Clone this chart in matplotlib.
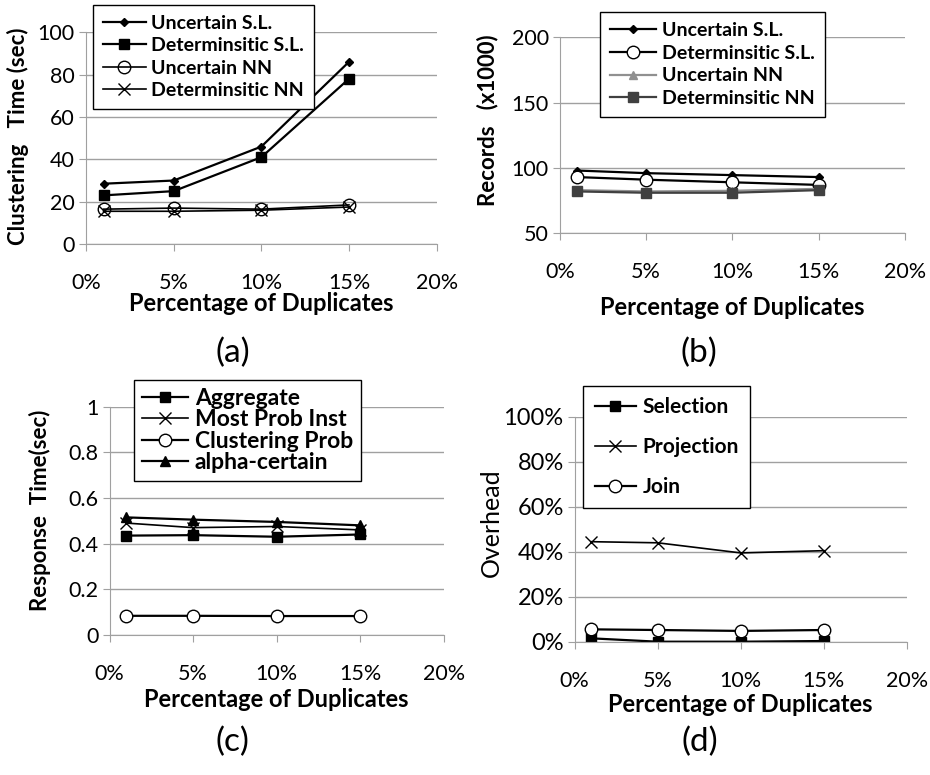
import matplotlib
matplotlib.use('Agg')
import matplotlib.pyplot as plt
import matplotlib.ticker as mticker

plt.rcParams['font.family'] = ['Lato', 'DejaVu Sans']

dup = [1, 5, 10, 15]

# (a) clustering time
a_unc_sl = [28.5, 30, 46, 86]
a_det_sl = [23, 25, 41, 78]
a_unc_nn = [16.5, 17, 16.5, 18.5]
a_det_nn = [15.5, 15.5, 16, 17.5]

# (b) records (x1000)
b_unc_sl = [98, 96, 94.5, 93]
b_det_sl = [93, 91, 89, 87]
b_unc_nn = [83, 82, 82.5, 84]
b_det_nn = [82, 81, 81, 83]

# (c) response time
c_aggr = [0.435, 0.437, 0.43, 0.44]
c_most = [0.49, 0.47, 0.475, 0.46]
c_clus = [0.083, 0.083, 0.082, 0.082]
c_alpha = [0.515, 0.505, 0.495, 0.48]

# (d) overhead (%)
d_sel = [1.5, 0, 0, 0.3]
d_proj = [44.5, 44, 39.5, 40.5]
d_join = [5.5, 5.2, 4.8, 5.2]

fig = plt.figure(figsize=(9.3, 7.75), dpi=100)


def style(ax, ylim, yticks, ypct=False, pad=16, ysize=15.5):
    ax.set_xlim(0, 20)
    ax.set_ylim(*ylim)
    ax.set_yticks(yticks)
    ax.set_xticks([0, 5, 10, 15, 20])
    ax.xaxis.set_major_formatter(mticker.FuncFormatter(lambda v, p: '%d%%' % v))
    if ypct:
        ax.yaxis.set_major_formatter(mticker.FuncFormatter(lambda v, p: '%d%%' % v))
    for s in ['top', 'right']:
        ax.spines[s].set_visible(False)
    for s in ['left', 'bottom']:
        ax.spines[s].set_color('#a0a0a0')
    ax.grid(axis='y', color='#a0a0a0', lw=1)
    ax.set_axisbelow(True)
    ax.tick_params(axis='x', length=5, color='#a0a0a0', pad=pad, labelsize=15.5)
    ax.tick_params(axis='y', length=5, color='#a0a0a0', labelsize=ysize, pad=3)


def leg(ax, bbox, spacing=0.25, fs=14, bpad=0.45, hlen=2.2):
    l = ax.legend(loc='upper left', bbox_to_anchor=bbox, bbox_transform=fig.transFigure,
                  frameon=True, fancybox=False, edgecolor='black', framealpha=1,
                  prop={'weight': 'bold', 'size': fs}, handlelength=hlen,
                  handletextpad=0.3, labelspacing=spacing, borderpad=bpad,
                  borderaxespad=0)
    l.get_frame().set_linewidth(1)
    return l


kw = dict(color='black', lw=1.6)
xl = dict(fontsize=17, fontweight='bold', va='top')
yl = dict(fontsize=16, fontweight='bold', va='center')

# (a)
ax1 = fig.add_axes([0.0925, 0.685, 0.377, 0.2735])
ax1.plot(dup, a_unc_sl, marker='D', ms=4.5, label='Uncertain S.L.', **kw)
ax1.plot(dup, a_det_sl, marker='s', ms=6.5, label='Determinsitic S.L.', **kw)
ax1.plot(dup, a_unc_nn, marker='o', ms=9, mfc='none', label='Uncertain NN', color='black', lw=1.2)
ax1.plot(dup, a_det_nn, marker='x', ms=9, label='Determinsitic NN', color='black', lw=1.2)
style(ax1, (0, 100), [0, 20, 40, 60, 80, 100])
ax1.set_ylabel('Clustering   Time (sec)', **yl)
ax1.yaxis.set_label_coords(-0.194, 0.51)
ax1.set_xlabel('Percentage of Duplicates', **xl)
ax1.xaxis.set_label_coords(0.5, -0.225)
leg(ax1, (0.1, 0.9935), spacing=0.28, bpad=0.5)

# (b)
ax2 = fig.add_axes([0.602, 0.699, 0.371, 0.253])
ax2.plot(dup, b_unc_sl, marker='D', ms=4.5, label='Uncertain S.L.', **kw)
ax2.plot(dup, b_det_sl, marker='o', ms=9, mfc='white', label='Determinsitic S.L.', **kw)
ax2.plot(dup, b_unc_nn, marker='^', ms=6, label='Uncertain NN', color='#909090', lw=1.6)
ax2.plot(dup, b_det_nn, marker='s', ms=6.5, label='Determinsitic NN', color='#404040', lw=1.6)
style(ax2, (50, 200), [50, 100, 150, 200])
ax2.set_ylabel('Records   (x1000)', **yl)
ax2.yaxis.set_label_coords(-0.209, 0.577)
ax2.set_xlabel('Percentage of Duplicates', **xl)
ax2.xaxis.set_label_coords(0.5, -0.32)
leg(ax2, (0.645, 0.9845), spacing=0.3, bpad=0.5, hlen=2.4)

# (c)
ax3 = fig.add_axes([0.118, 0.181, 0.359, 0.294])
ax3.plot(dup, c_aggr, marker='s', ms=6.5, label='Aggregate', **kw)
ax3.plot(dup, c_most, marker='x', ms=9, label='Most Prob Inst', color='black', lw=1.2)
ax3.plot(dup, c_clus, marker='o', ms=9, mfc='white', label='Clustering Prob', **kw)
ax3.plot(dup, c_alpha, marker='^', ms=7, label='alpha-certain', **kw)
style(ax3, (0, 1), [0, 0.2, 0.4, 0.6, 0.8, 1])
ax3.yaxis.set_major_formatter(mticker.FuncFormatter(lambda v, p: '%g' % v))
ax3.set_ylabel('Response  Time(sec)', **yl)
ax3.yaxis.set_label_coords(-0.21, 0.548)
ax3.set_xlabel('Percentage of Duplicates', **xl)
ax3.xaxis.set_label_coords(0.5, -0.235)
leg(ax3, (0.144, 0.51), spacing=0.02, fs=16.5, bpad=0.35, hlen=2.0)

# (d)
ax4 = fig.add_axes([0.618, 0.172, 0.357, 0.290])
ax4.plot(dup, d_sel, marker='s', ms=6.5, label='Selection', **kw)
ax4.plot(dup, d_proj, marker='x', ms=9, label='Projection', color='black', lw=1.2)
ax4.plot(dup, d_join, marker='o', ms=9, mfc='white', label='Join', **kw)
style(ax4, (0, 100), [0, 20, 40, 60, 80, 100], ypct=True, ysize=17)
ax4.set_ylabel('Overhead', fontsize=18, va='center')
ax4.yaxis.set_label_coords(-0.25, 0.53)
ax4.set_xlabel('Percentage of Duplicates', **xl)
ax4.xaxis.set_label_coords(0.5, -0.23)
leg(ax4, (0.627, 0.502), spacing=0.95, fs=15, bpad=0.55, hlen=2.0)

for x, y, t in [(0.25, 0.545, '(a)'), (0.752, 0.545, '(b)'), (0.25, 0.043, '(c)'), (0.752, 0.043, '(d)')]:
    fig.text(x, y, t, fontsize=24, ha='center', va='center')

fig.savefig('out.png', dpi=100)
